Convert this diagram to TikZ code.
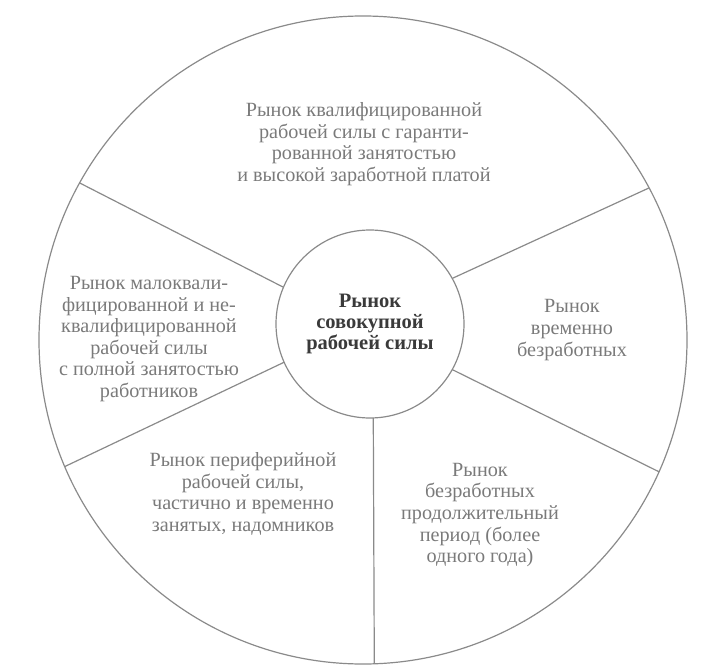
\documentclass[tikz,border=0pt]{standalone}
\usepackage{fontspec}
\setmainfont{Liberation Serif}
\definecolor{linegray}{HTML}{8A8A8A}
\definecolor{textgray}{HTML}{7A7A7A}
\definecolor{centergray}{HTML}{3A3A3A}
\begin{document}
\begin{tikzpicture}[x=1pt,y=-1pt,
  ring/.style={circle, draw=linegray, line width=1.2pt, inner sep=0pt, outer sep=0pt},
  divider/.style={draw=linegray, line width=1.2pt},
  seglabel/.style={align=center, text=textgray, font=\fontsize{20.2}{21.6}\selectfont, inner sep=0pt},
  centerlabel/.style={align=center, text=centergray, font=\bfseries\fontsize{20.5}{21.3}\selectfont}
]
\useasboundingbox (0,0) rectangle (707,669);
\node[ring, minimum size=648pt] (outer) at (363,340) {};
\node[ring, minimum size=188pt, centerlabel] (inner) at (370,324) {Рынок\\совокупной\\рабочей силы};

\draw[divider] (inner.157.2) -- (outer.151.6);
\draw[divider] (inner.29.3) -- (outer.28.8);
\draw[divider] (inner.-29) -- (outer.-24);
\draw[divider] (inner.-88.8) -- (outer.-88.4);
\draw[divider] (inner.-156.6) -- (outer.-157.4);

\node[seglabel] (top) at (364,144) {Рынок квалифицированной\\рабочей силы с гаранти-\\рованной занятостью\\и высокой заработной платой};
\node[seglabel] (left) at (149,339) {Рынок малоквали-\\фицированной и не-\\квалифицированной\\рабочей силы\\с полной занятостью\\работников};
\node[seglabel] (right) at (572,330) {Рынок\\временно\\безработных};
\node[seglabel] (botleft) at (243,494) {Рынок периферийной\\рабочей силы,\\частично и временно\\занятых, надомников};
\node[seglabel] (botright) at (480,515) {Рынок\\безработных\\продолжительный\\период (более\\одного года)};
\end{tikzpicture}
\end{document}
